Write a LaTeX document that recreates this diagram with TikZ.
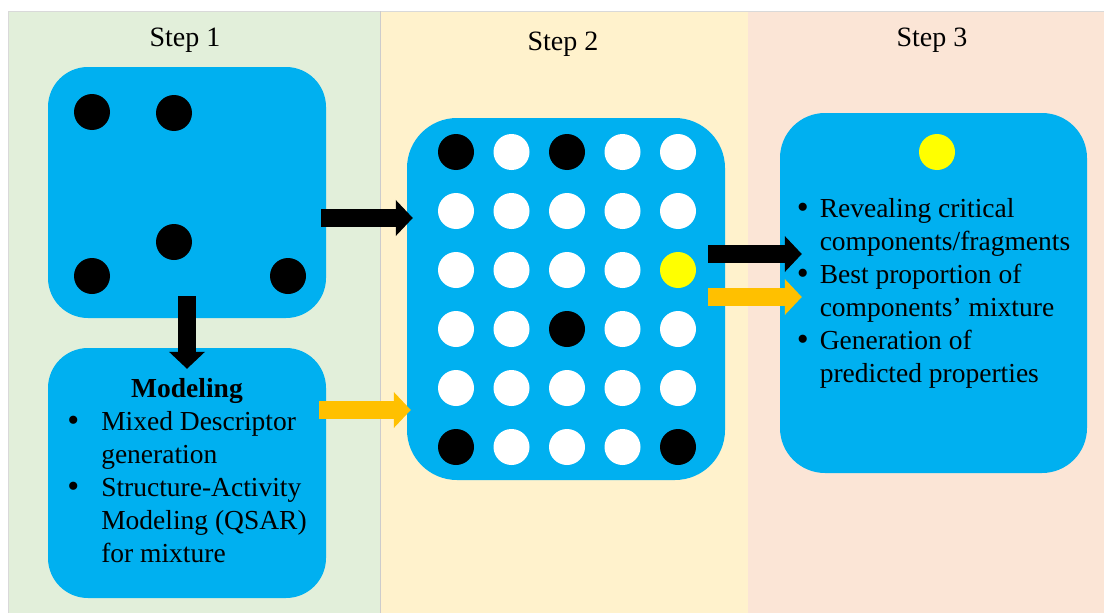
\documentclass[tikz,border=0pt]{standalone}
\usepackage{fontspec}
\setmainfont{Liberation Serif}
\usetikzlibrary{calc,arrows.meta}

\definecolor{boxblue}{HTML}{00B0F0}
\definecolor{bggreen}{HTML}{E2EFDA}
\definecolor{bgyellow}{HTML}{FFF2CC}
\definecolor{bgpink}{HTML}{FBE5D6}
\definecolor{arroworange}{HTML}{FFC000}
\definecolor{dotk}{HTML}{000000}
\definecolor{dotw}{HTML}{FFFFFF}
\definecolor{doty}{HTML}{FFFF00}

\newcommand\blt{\raisebox{-1.5pt}{\fontsize{34}{33}\selectfont\textbullet}}

\tikzset{
	panel/.style={rectangle, rounded corners=40pt, fill=boxblue, inner sep=0pt, font=\fontsize{27.5}{33}\selectfont},
	dot/.style={circle, minimum size=36pt, inner sep=0pt},
	steplabel/.style={font=\fontsize{28}{34}\selectfont},
	bigarrow/.style={line width=18pt, -{Triangle[length=17pt,width=35pt]}},
}

\begin{document}
\begin{tikzpicture}[x=1pt, y=-1pt]
			%%%%% START %%%%%
			\useasboundingbox (0, 0) rectangle (1104, 613);
			
			\fill[bggreen] (8, 11) rectangle (380, 613);
			\fill[bgyellow] (380, 11) rectangle (748, 613);
			\fill[bgpink] (748, 11) rectangle (1104, 613);
			\draw[line width=0.8pt, color=black!15] (8, 613) -- (8, 11) -- (1104, 11);
			\draw[line width=0.8pt, color=black!20] (380, 11) -- (380, 613);
			
			\node[steplabel] (step1) at (185, 40) {Step 1};
			\node[steplabel] (step2) at (563, 44) {Step 2};
			\node[steplabel] (step3) at (932, 40) {Step 3};
			
			% step 1
			\node[panel, minimum width=278pt, minimum height=251pt] (box1) at (187, 192.5) {};
			\node[dot, fill=dotk] (d1) at (92, 112) {};
			\node[dot, fill=dotk] (d2) at (174, 113) {};
			\node[dot, fill=dotk] (d3) at (174, 242) {};
			\node[dot, fill=dotk] (d4) at (92, 276) {};
			\node[dot, fill=dotk] (d5) at (288, 276) {};
			
			\node[panel, minimum width=278pt, minimum height=250pt] (box2) at (187, 473) {%
				\begin{tabular}{@{}p{34pt}@{}l@{}}
					\multicolumn{2}{c}{\textbf{Modeling}}\\
					\blt & Mixed Descriptor\\
					& generation\\
					\blt & Structure-Activity\\
					& Modeling (QSAR)\\
					& for mixture
				\end{tabular}};
			
			% step 2
			\node[panel, rounded corners=50pt, minimum width=318pt, minimum height=362pt] (grid) at (566, 299) {};
			\foreach \row [count=\j] in {{k,w,k,w,w},{w,w,w,w,w},{w,w,w,w,y},{w,w,k,w,w},{w,w,w,w,w},{k,w,w,w,k}}
				\foreach \c [count=\i] in \row
					\node[dot, fill=dot\c] (g-\j-\i) at ({456+(\i-1)*55.5}, {152+(\j-1)*59}) {};
			
			% step 3
			\node[panel, rounded corners=45pt, minimum width=307pt, minimum height=360pt] (box3) at (933.5, 293) {%
				\begin{tabular}{@{}p{23pt}@{}l@{}}
					\blt & Revealing critical\\
					& components/fragments\\
					\blt & Best proportion of\\
					& components’ mixture\\
					\blt & Generation of\\
					& predicted properties
				\end{tabular}};
			\node[dot, fill=doty] (best) at (937, 152) {};
			
			% arrows
			\draw[bigarrow, color=black] ($(box1.east)+(-5, 25.5)$) -- ($(grid.west)+(6, -81)$);
			\draw[bigarrow, color=arroworange] ($(box2.east)+(-7, -63)$) -- ($(grid.west)+(4, 111)$);
			\draw[bigarrow, color=black] ($(grid.east)+(-17, -45)$) -- ($(box3.west)+(22, -39)$);
			\draw[bigarrow, color=arroworange] ($(grid.east)+(-17, -2)$) -- ($(box3.west)+(22, 4)$);
			\draw[bigarrow, color=black] ($(box1.south)+(0, -22)$) -- ($(box2.north)+(0, 21)$);
			
			%%%%% END %%%%%
\end{tikzpicture}
\end{document}
